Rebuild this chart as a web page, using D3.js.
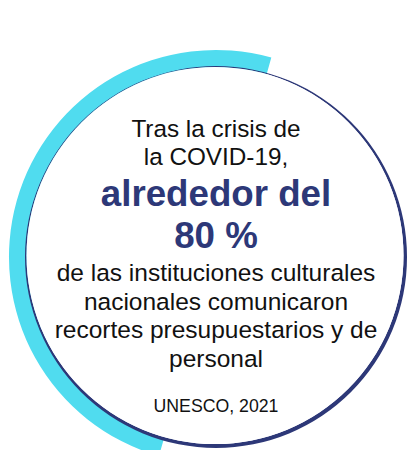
<!DOCTYPE html>
<html>
<head>
<meta charset="utf-8">
<script src="https://cdn.jsdelivr.net/npm/d3@7"></script>
<style>
  html, body { margin: 0; padding: 0; background: #ffffff; }
  svg { display: block; }
</style>
</head>
<body>
<div id="chart"></div>
<script>
// ---- data ----
const introLines = ["Tras la crisis de", "la COVID-19,"];
const highlightLines = ["alrededor del", "80 %"];
const bodyLines = ["de las instituciones culturales", "nacionales comunicaron", "recortes presupuestarios y de", "personal"];
const sourceLines = ["UNESCO, 2021"];
// decorative arc span, degrees clockwise from top
const arcSpanDeg = [-164, 15.5];

// ---- layout ----
const W = 408, H = 450;
const cx = 216, cy = 257;
const colors = { cyan: "#50dcef", navy: "#2d3878", text: "#111111" };

const svg = d3.select("#chart").append("svg")
  .attr("width", W).attr("height", H)
  .attr("viewBox", `0 0 ${W} ${H}`);

const g = svg.append("g").attr("transform", `translate(${cx},${cy})`);

const rad = d3.scaleLinear().domain([0, 360]).range([0, 2 * Math.PI]);

// cyan arc
const arc = d3.arc()
  .innerRadius(189)
  .outerRadius(207)
  .startAngle(rad(arcSpanDeg[0]))
  .endAngle(rad(arcSpanDeg[1]));
g.append("path").attr("d", arc()).attr("fill", colors.cyan);

// navy crescent ring (outer circle minus slightly offset inner circle)
const outerR = 191, innerR = 188.5, ox = -1, oy = -1.5;
const ring = d3.path();
ring.moveTo(outerR, 0);
ring.arc(0, 0, outerR, 0, 2 * Math.PI);
ring.closePath();
ring.moveTo(ox + innerR, oy);
ring.arc(ox, oy, innerR, 0, 2 * Math.PI);
ring.closePath();
g.append("path").attr("d", ring.toString())
  .attr("fill", colors.navy).attr("fill-rule", "evenodd");

// white interior
g.append("circle").attr("cx", ox).attr("cy", oy).attr("r", innerR).attr("fill", "#ffffff");

// ---- text ----
const font = "'Liberation Sans', Arial, sans-serif";
const txt = svg.append("g").attr("font-family", font).attr("text-anchor", "middle");

function block(lines, y0, step, size, weight, fill) {
  txt.selectAll(null).data(lines).enter().append("text")
    .attr("x", cx)
    .attr("y", (d, i) => y0 + i * step)
    .attr("font-size", size)
    .attr("font-weight", weight)
    .attr("fill", fill)
    .text(d => d);
}

block(introLines, 137, 28, 24.3, "normal", colors.text);
block(highlightLines, 206, 42, 36.7, "bold", colors.navy);
block(bodyLines, 281, 28.5, 24.5, "normal", colors.text);
block(sourceLines, 412, 20, 17.7, "normal", colors.text);
</script>
</body>
</html>
